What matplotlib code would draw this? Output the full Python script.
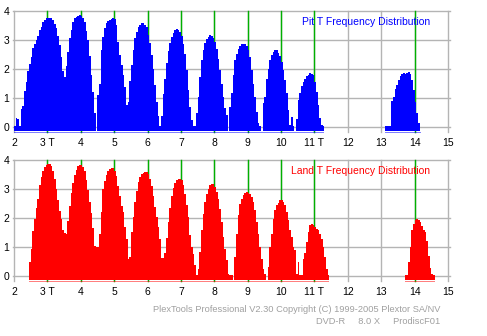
import numpy as np
import matplotlib
matplotlib.use('Agg')
import matplotlib.pyplot as plt

plt.rcParams['font.family'] = ['Liberation Sans', 'DejaVu Sans']

# bin width in T units, every list below starts at its *_start value
bin_w = 0.05

# Pit T frequency distribution (top)
pit_start = 2.00
pit_vals = [0.05, 0.32, 0.30, 0.05, 0.62, 0.72, 1.23, 1.57, 1.93, 2.18,
            2.41, 2.72, 2.85, 3.00, 3.13, 3.35, 3.44, 3.60, 3.68, 3.74,
            3.76, 3.76, 3.74, 3.69, 3.55, 3.39, 3.13, 2.82, 2.41, 1.92,
            1.72, 2.09, 2.59, 3.05, 3.33, 3.62, 3.76, 3.78, 3.82, 3.85,
            3.82, 3.74, 3.60, 3.30, 3.00, 2.45, 1.80, 1.20, 0.50, 0.00,
            1.10, 1.50, 2.64, 3.10, 3.40, 3.56, 3.65, 3.68, 3.72, 3.74,
            3.70, 3.50, 2.93, 2.47, 2.13, 1.78, 1.38, 0.78, 0.86, 1.60,
            2.13, 2.64, 3.05, 3.28, 3.45, 3.52, 3.56, 3.58, 3.52, 3.45,
            3.18, 2.90, 2.47, 2.01, 1.44, 0.86, 0.40, 0.06, 0.40, 1.15,
            1.65, 2.20, 2.60, 2.90, 3.10, 3.25, 3.34, 3.38, 3.35, 3.28,
            3.12, 2.86, 2.50, 1.95, 1.27, 0.70, 0.25, 0.03, 0.03, 0.50,
            1.05, 1.73, 2.30, 2.64, 2.89, 3.03, 3.11, 3.15, 3.14, 3.07,
            2.92, 2.70, 2.35, 1.95, 1.50, 1.05, 0.65, 0.42, 0.00, 0.70,
            1.16, 1.78, 2.30, 2.52, 2.70, 2.80, 2.86, 2.87, 2.85, 2.78,
            2.66, 2.40, 1.95, 1.50, 1.05, 0.53, 0.14, 0.05, 0.00, 0.82,
            1.05, 1.67, 2.00, 2.30, 2.47, 2.58, 2.64, 2.64, 2.55, 2.43,
            2.24, 1.95, 1.61, 1.16, 0.60, 0.08, 0.36, 0.03, 0.00, 0.30,
            0.93, 1.16, 1.40, 1.56, 1.67, 1.75, 1.80, 1.86, 1.84, 1.78,
            1.55, 1.20, 0.75, 0.32, 0.08, 0.03]
pit14_start = 13.10
pit14_vals = [0.03, 0.05, 0.05, 0.05, 0.90, 1.05, 1.30, 1.45, 1.62, 1.75,
              1.82, 1.86, 1.82, 1.85, 1.90, 1.84, 1.61, 1.27, 0.88, 0.50,
              0.14]

# Land T frequency distribution (bottom)
land_start = 2.45
land_vals = [0.48, 0.94, 1.57, 1.97, 2.33, 2.65, 3.13, 3.39, 3.62, 3.74,
             3.82, 3.84, 3.84, 3.78, 3.60, 3.35, 3.00, 2.60, 2.25, 1.95,
             1.60, 1.50, 1.45, 1.90, 2.40, 2.85, 3.20, 3.48, 3.65, 3.77,
             3.82, 3.82, 3.76, 3.60, 3.30, 2.97, 2.56, 2.16, 1.65, 1.05,
             0.99, 1.00, 1.45, 2.20, 3.00, 3.28, 3.47, 3.62, 3.68, 3.70,
             3.70, 3.62, 3.45, 3.11, 2.77, 2.42, 2.19, 1.68, 1.28, 0.59,
             0.65, 1.51, 2.02, 2.54, 2.94, 3.22, 3.39, 3.51, 3.55, 3.57,
             3.57, 3.51, 3.34, 3.11, 2.77, 2.37, 2.02, 1.68, 1.28, 0.62,
             0.62, 0.80, 1.30, 1.85, 2.35, 2.75, 3.03, 3.20, 3.30, 3.35,
             3.35, 3.29, 3.12, 2.83, 2.43, 2.03, 1.41, 1.00, 0.78, 0.38,
             0.03, 0.26, 0.83, 1.58, 2.15, 2.55, 2.83, 3.00, 3.12, 3.15,
             3.15, 3.06, 2.89, 2.66, 2.32, 1.86, 1.35, 0.95, 0.55, 0.09,
             0.05, 0.05, 0.00, 0.66, 1.46, 2.09, 2.49, 2.66, 2.78, 2.86,
             2.89, 2.86, 2.83, 2.72, 2.55, 2.26, 1.86, 1.46, 1.00, 0.60,
             0.26, 0.07, 0.00, 0.32, 1.00, 1.46, 1.98, 2.26, 2.43, 2.51,
             2.60, 2.60, 2.55, 2.43, 2.20, 1.92, 1.58, 1.35, 1.00, 0.89,
             0.07, 0.49, 0.03, 0.03, 0.60, 0.80, 1.18, 1.52, 1.75, 1.81,
             1.75, 1.69, 1.63, 1.58, 1.46, 1.29, 1.00, 0.66, 0.26, 0.05]
land14_start = 13.70
land14_vals = [0.05, 0.05, 0.50, 1.00, 1.60, 1.80, 1.92, 1.98, 1.94, 1.86,
               1.72, 1.58, 1.52, 1.20, 0.70, 0.30, 0.08, 0.05]

x_ticks = list(range(2, 16))
x_labels = ['2', '3 T', '4', '5', '6', '7', '8', '9', '10', '11 T', '12', '13', '14', '15']
green_marks = [3, 4, 5, 6, 7, 8, 9, 10, 11, 14]

W, H = 487, 336
fig = plt.figure(figsize=(W / 100, H / 100), dpi=100)

depth = 0.13   # bars reach a little below the zero line


def panel(y0, y1, parts, color, title):
    ax = fig.add_axes([12 / W, 1 - y1 / H, 440 / W, (y1 - y0) / H])
    ax.set_xlim(1.94, 15.12)
    ax.set_ylim(-0.23, 4.09)
    for s in ax.spines.values():
        s.set_visible(False)
    # grid
    for t in x_ticks:
        ax.plot([t, t], [-0.17, 4], color='#b4b4b4', lw=1, zorder=1)
    for v in range(5):
        ax.plot([1.97, 15.05], [v, v], color='#b4b4b4', lw=1, zorder=1)
    for t in green_marks:
        ax.plot([t, t], [-0.17, 4], color='#00b000', lw=1, zorder=2)
    for start, vals in parts:
        vals = np.array(vals)
        edges = start + bin_w * np.arange(len(vals) + 1)
        tops = np.where(vals > 0, vals, -depth)
        ax.stairs(tops, edges, baseline=-depth, fill=True, color=color,
                  linewidth=0, zorder=3)
        ax.plot([edges[0], edges[-1]], [-0.15, -0.15], color=color,
                lw=0.72, linestyle=(0, (1, 1)), zorder=4)
    ax.set_xticks(x_ticks)
    ax.set_xticklabels(x_labels, fontsize=7.5)
    ax.set_yticks(range(5))
    ax.set_yticklabels([str(v) for v in range(5)], fontsize=7.5)
    ax.tick_params(length=0, pad=3)
    ax.tick_params(axis='y', pad=2)
    ax.text(14.47, 3.61, title, color=color, fontsize=7.5, ha='right', va='center')
    return ax


panel(8, 134, [(pit_start, pit_vals), (pit14_start, pit14_vals)], '#0000ff',
      'Pit T Frequency Distribution')
panel(157, 283, [(land_start, land_vals), (land14_start, land14_vals)], '#ff0000',
      'Land T Frequency Distribution')

fig.text(440 / W, 1 - 309 / H,
         'PlexTools Professional V2.30 Copyright (C) 1999-2005 Plextor SA/NV',
         color='#a0a0a0', fontsize=6.7, ha='right', va='center')
fig.text(440 / W, 1 - 322 / H, 'DVD-R     8.0 X     ProdiscF01',
         color='#a0a0a0', fontsize=6.7, ha='right', va='center')

fig.savefig('out.png', dpi=100, facecolor='white')
